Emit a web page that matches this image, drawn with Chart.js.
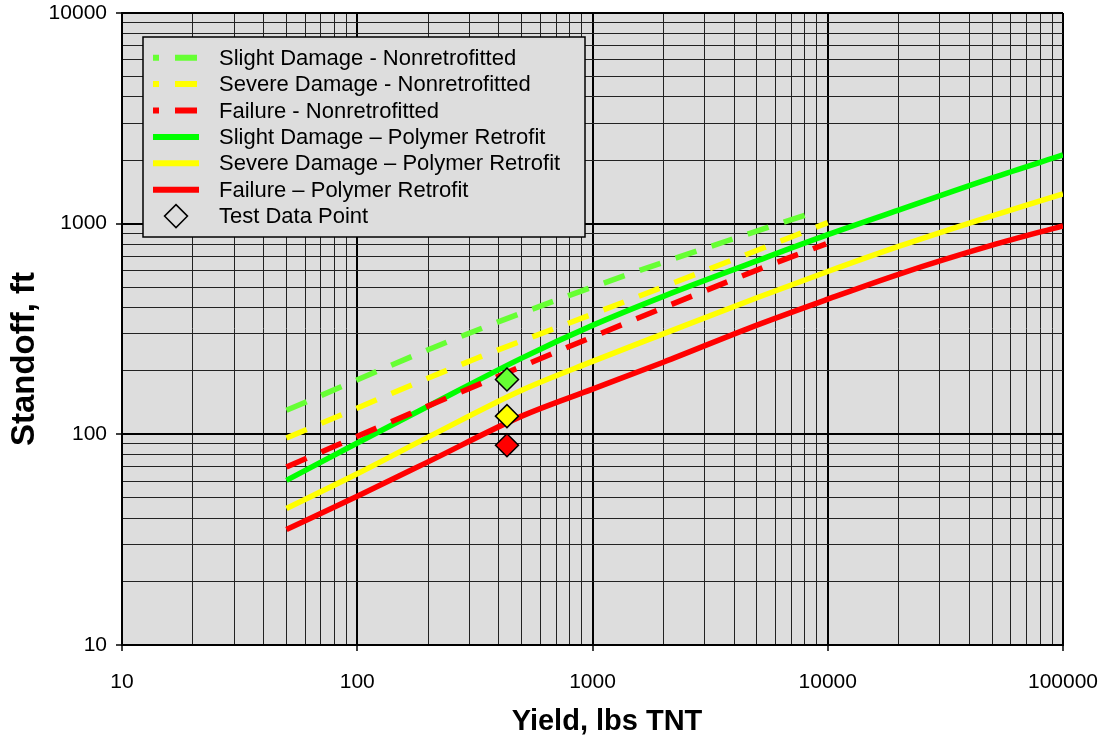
<!DOCTYPE html>
<html>
<head>
<meta charset="utf-8">
<script src="https://cdn.jsdelivr.net/npm/chart.js@4.4.0/dist/chart.umd.min.js"></script>
<style>
  body { margin: 0; background: #fff; }
  canvas { display: block; }
</style>
</head>
<body>
<canvas id="myChart" width="1105" height="742"></canvas>
<script>
// decades shown on the axes
const xDecades = [10, 100, 1000, 10000, 100000];
const yDecades = [10, 100, 1000, 10000];

// Nonretrofitted (dashed)
const slightNonX = [50, 250, 1000, 4000, 9000];
const slightNonY = [130, 279, 500, 850, 1143];
const severeNonX = [50, 320, 1000, 4200, 10000];
const severeNonY = [96, 229, 372, 692, 1011];
const failNonX = [50, 218, 1000, 5150, 9840];
const failNonY = [70, 142, 290, 610, 802];

// Polymer retrofit (solid)
const polyX = [50, 100, 200, 500, 1000, 2000, 5000, 10000, 20000, 50000, 100000];
const slightPolyY = [60.5, 91, 136, 230, 329, 452, 666, 887, 1160, 1650, 2120];
const severePolyY = [44.5, 65, 97, 162, 222, 300, 445, 593, 780, 1090, 1384];
const failPolyY = [35.3, 50.8, 74, 122, 164, 220, 330, 438, 575, 790, 977];

// test data points
const testX = [433, 433, 433];
const testY = [182, 122, 88.7];
const testColors = ['#66ff33', '#ffff00', '#ff0000'];

const labels = [
  'Slight Damage - Nonretrofitted',
  'Severe Damage - Nonretrofitted',
  'Failure - Nonretrofitted',
  'Slight Damage \u2013 Polymer Retrofit',
  'Severe Damage \u2013 Polymer Retrofit',
  'Failure \u2013 Polymer Retrofit',
  'Test Data Point'
];

const toPts = (xs, ys) => xs.map((x, i) => ({ x: x, y: ys[i] }));
const isDecade = v => Math.abs(Math.log10(v) - Math.round(Math.log10(v))) < 1e-9;

function logTicks(decades) {
  const out = [];
  for (let i = 0; i < decades.length - 1; i++) {
    for (let m = 1; m <= 9; m++) out.push(m * decades[i]);
  }
  out.push(decades[decades.length - 1]);
  return out;
}

const FONT = "'Liberation Sans', Arial, sans-serif";

const dashed = (label, color, data) => ({
  label, data, borderColor: color, borderWidth: 5.5, borderDash: [22, 16],
  borderCapStyle: 'butt', pointRadius: 0, cubicInterpolationMode: 'monotone', order: 1
});
const solid = (label, color, data) => ({
  label, data, borderColor: color, borderWidth: 5.5,
  pointRadius: 0, cubicInterpolationMode: 'monotone', order: 2
});

// gray plot background
const plotBg = {
  id: 'plotBg',
  beforeDraw(chart) {
    const { ctx, chartArea: a } = chart;
    ctx.save();
    ctx.fillStyle = '#dddddd';
    ctx.fillRect(a.left, a.top, a.width, a.height);
    ctx.restore();
  }
};

// boxed legend inside the plot + axis titles
const legendBox = {
  id: 'legendBox',
  afterDraw(chart) {
    const { ctx, chartArea: a } = chart;
    const x0 = a.left + 21, y0 = a.top + 24, w = 442, h = 200;
    ctx.save();
    ctx.fillStyle = '#dddddd';
    ctx.fillRect(x0, y0, w, h);
    ctx.strokeStyle = '#000';
    ctx.lineWidth = 1.5;
    ctx.strokeRect(x0, y0, w, h);

    ctx.font = '22px ' + FONT;
    ctx.textBaseline = 'middle';
    chart.data.datasets.forEach((ds, i) => {
      const y = y0 + 20.7 + i * 26.4;
      ctx.save();
      if (ds.showLine === false) {
        const cx = x0 + 33, r = 11.5;
        ctx.beginPath();
        ctx.moveTo(cx, y - r); ctx.lineTo(cx + r, y); ctx.lineTo(cx, y + r); ctx.lineTo(cx - r, y);
        ctx.closePath();
        ctx.lineWidth = 1.5;
        ctx.strokeStyle = '#000';
        ctx.stroke();
      } else {
        ctx.setLineDash(ds.borderDash || []);
        ctx.lineDashOffset = 16;
        ctx.lineWidth = 6;
        ctx.strokeStyle = ds.borderColor;
        ctx.beginPath();
        ctx.moveTo(x0 + 10, y);
        ctx.lineTo(x0 + 56, y);
        ctx.stroke();
      }
      ctx.restore();
      ctx.fillStyle = '#000';
      ctx.fillText(ds.label, x0 + 76, y + 1);
    });

    // axis titles
    ctx.font = 'bold 29px ' + FONT;
    ctx.textAlign = 'center';
    ctx.textBaseline = 'middle';
    ctx.fillText('Yield, lbs TNT', 607, 722);
    ctx.translate(25, 359);
    ctx.rotate(-Math.PI / 2);
    ctx.font = 'bold 33px ' + FONT;
    ctx.fillText('Standoff, ft', 0, 0);
    ctx.restore();
  }
};

function axis(decades, fitFn) {
  const vals = logTicks(decades);
  return {
    type: 'logarithmic',
    min: decades[0],
    max: decades[decades.length - 1],
    afterBuildTicks: s => { s.ticks = vals.map(v => ({ value: v, major: isDecade(v) })); },
    afterFit: s => {
      fitFn(s);
      s.paddingTop = 0; s.paddingBottom = 0; s.paddingLeft = 0; s.paddingRight = 0;
    },
    border: { color: '#000', width: 2 },
    grid: {
      color: c => isDecade(c.tick.value) ? '#000' : '#222',
      lineWidth: c => isDecade(c.tick.value) ? 2 : 1,
      tickColor: c => isDecade(c.tick.value) ? '#000' : 'rgba(0,0,0,0)',
      tickLength: 6,
      tickWidth: 1.5
    },
    ticks: {
      autoSkip: false,
      maxRotation: 0,
      color: '#000',
      font: { family: FONT, size: 21 },
      callback: v => isDecade(v) ? String(v) : ''
    }
  };
}

const xAxis = axis(xDecades, s => { s.height = 97; });
xAxis.ticks.padding = 19;
const yAxis = axis(yDecades, s => { s.width = 122; });
yAxis.ticks.padding = 9;

new Chart(document.getElementById('myChart'), {
  type: 'line',
  data: {
    datasets: [
      dashed(labels[0], '#66ff33', toPts(slightNonX, slightNonY)),
      dashed(labels[1], '#ffff00', toPts(severeNonX, severeNonY)),
      dashed(labels[2], '#ff0000', toPts(failNonX, failNonY)),
      solid(labels[3], '#00ff00', toPts(polyX, slightPolyY)),
      solid(labels[4], '#ffff00', toPts(polyX, severePolyY)),
      solid(labels[5], '#ff0000', toPts(polyX, failPolyY)),
      {
        label: labels[6],
        data: toPts(testX, testY),
        showLine: false,
        pointStyle: 'rectRot',
        pointRadius: 11.5,
        pointBackgroundColor: testColors,
        pointBorderColor: '#000',
        pointBorderWidth: 1.5,
        order: 0
      }
    ]
  },
  options: {
    responsive: false,
    animation: false,
    layout: { padding: { left: 0, right: 42, top: 12, bottom: 0 } },
    plugins: { legend: { display: false }, tooltip: { enabled: false } },
    scales: { x: xAxis, y: yAxis }
  },
  plugins: [plotBg, legendBox]
});
</script>
</body>
</html>
